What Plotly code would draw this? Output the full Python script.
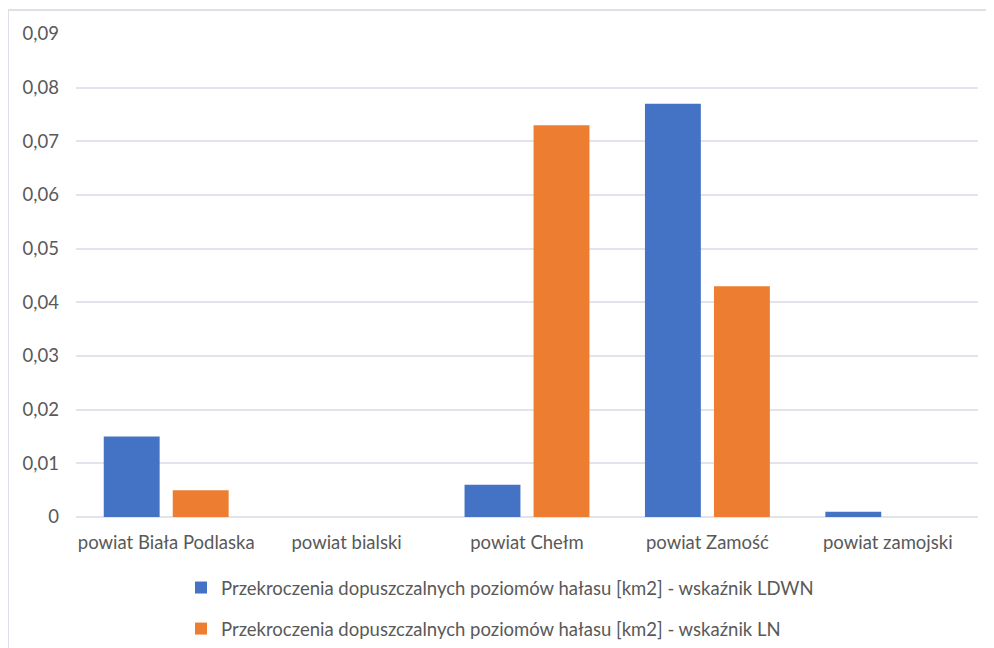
import plotly.graph_objects as go

categories = ["powiat Biała Podlaska", "powiat bialski", "powiat Chełm", "powiat Zamość", "powiat zamojski"]
ldwn = [0.015, 0, 0.006, 0.077, 0.001]
ln = [0.005, 0, 0.073, 0.043, 0]
name_ldwn = "Przekroczenia dopuszczalnych poziomów hałasu [km2] - wskaźnik LDWN"
name_ln = "Przekroczenia dopuszczalnych poziomów hałasu [km2] - wskaźnik LN"
tickvals = [0, 0.01, 0.02, 0.03, 0.04, 0.05, 0.06, 0.07, 0.08, 0.09]
ticktext = ["0", "0,01", "0,02", "0,03", "0,04", "0,05", "0,06", "0,07", "0,08", "0,09"]

font = "Lato, Open Sans, sans-serif"
txt = "#595959"
fs = 18.5

fig = go.Figure()
fig.add_trace(go.Bar(x=categories, y=ldwn, name=name_ldwn, legendgroup="a",
                     marker=dict(color="#4472C4", line=dict(width=0))))
fig.add_trace(go.Bar(x=categories, y=ln, name=name_ln, legendgroup="b",
                     marker=dict(color="#ED7D31", line=dict(width=0))))

# page body has an 8px margin, so figure coords = screen coords - 8
W, H = 994, 648
L, T = 68, 26
R = W - 970
B = H - 509
pw, ph = W - L - R, H - T - B

fig.update_layout(
    width=W, height=H,
    margin=dict(l=L, r=R, t=T, b=B, autoexpand=False),
    paper_bgcolor="white", plot_bgcolor="white",
    barmode="group", bargap=0.235, bargroupgap=0.19,
    font=dict(family=font, size=fs, color=txt),
    xaxis=dict(showgrid=False, showline=False, ticks="", automargin=False,
               ticklabelstandoff=12, tickfont=dict(size=fs, color=txt)),
    yaxis=dict(range=[0, 0.09], tickvals=tickvals, ticktext=ticktext, automargin=False,
               gridcolor="#E1E4EA", gridwidth=1.5, zeroline=True, zerolinecolor="#E1E4EA",
               zerolinewidth=1.5, showline=False, ticks="", ticklabelstandoff=16,
               tickfont=dict(size=fs, color=txt)),
    legend=dict(orientation="v", x=(173 - L) / pw, xanchor="left",
                yref="container", y=(H - 561) / H, yanchor="top", bgcolor="rgba(0,0,0,0)",
                tracegroupgap=14, itemwidth=30, font=dict(size=fs, color=txt)),
    showlegend=True,
    shapes=[dict(type="rect", xref="paper", yref="paper",
                 x0=(0 - L) / pw, x1=(W + 20 - L) / pw, y0=(H - B - (H + 20)) / ph, y1=(H - B - 2) / ph,
                 line=dict(color="#DDE1E7", width=2), fillcolor="rgba(0,0,0,0)", layer="below")],
)

fig.write_html("out.html")
